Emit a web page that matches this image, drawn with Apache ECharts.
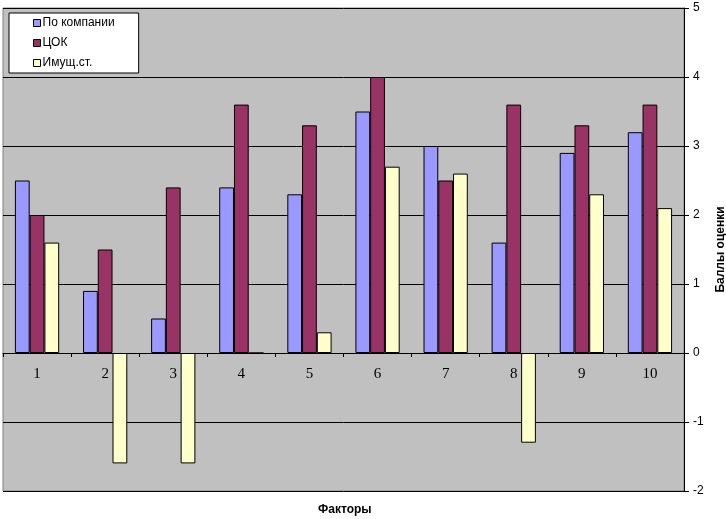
<!DOCTYPE html>
<html><head><meta charset="utf-8">
<script src="https://cdn.jsdelivr.net/npm/echarts@6/dist/echarts.min.js"></script>
<style>html,body{margin:0;padding:0;background:#fff}#c{width:726px;height:519px}</style>
</head><body><div id="c"></div>
<script>
const categories = ['1','2','3','4','5','6','7','8','9','10'];
const poKompanii = [2.5, 0.9, 0.5, 2.4, 2.3, 3.5, 3.0, 1.6, 2.9, 3.2];
const tsok = [2.0, 1.5, 2.4, 3.6, 3.3, 4.0, 2.5, 3.6, 3.3, 3.6];
const imushch = [1.6, -1.6, -1.6, 0, 0.3, 2.7, 2.6, -1.3, 2.3, 2.1];
const seriesNames = ['По компании', 'ЦОК', 'Имущ.ст.'];
const colors = ['#9999FF', '#993366', '#FFFFCC'];

const chart = echarts.init(document.getElementById('c'), null, {renderer:'canvas'});
const mk = (name, data, color) => ({
  name, type:'bar', data,
  barGap:'0%', barCategoryGap:'35%',
  itemStyle:{color, borderColor:'#000', borderWidth:1},
  emphasis:{disabled:true}
});
chart.setOption({
  animation:false,
  backgroundColor:'#fff',
  grid:{left:3, right:42, top:8, bottom:28, containLabel:false, outerBoundsMode:'none', show:true, backgroundColor:'#C0C0C0', borderColor:'#808080', borderWidth:1},
  legend:{
    orient:'vertical', left:9, top:13,
    backgroundColor:'#fff', borderColor:'#000', borderWidth:1,
    padding:[4, 24, 4, 24], itemGap:8, itemWidth:7, itemHeight:7,
    icon:'rect',
    itemStyle:{borderColor:'#000', borderWidth:1},
    textStyle:{fontFamily:'Liberation Sans, Arial', fontSize:12, color:'#000', padding:[0,0,0,-3]},
    data: seriesNames
  },
  xAxis:{
    type:'category', data:categories, position:'bottom', offset:-138,
    axisLine:{onZero:false, lineStyle:{color:'#000', width:1}},
    axisTick:{show:true, length:4, lineStyle:{color:'#000'}},
    axisLabel:{margin:14, fontFamily:'Liberation Serif, Times New Roman', fontSize:15, color:'#000'},
    splitLine:{show:false}
  },
  yAxis:{
    type:'value', position:'right', min:-2, max:5, interval:1,
    axisLine:{show:true, lineStyle:{color:'#000'}},
    axisTick:{show:true, length:5, inside:false, lineStyle:{color:'#000'}},
    axisLabel:{margin:9, fontFamily:'Liberation Sans, Arial', fontSize:12, color:'#000'},
    splitLine:{show:true, lineStyle:{color:'#000', width:1}},
    name:'Баллы оценки', nameLocation:'middle', nameRotate:90, nameGap:31,
    nameTextStyle:{fontFamily:'Liberation Sans, Arial', fontSize:12, fontWeight:'bold', color:'#000'}
  },
  graphic:[{type:'text', left:318, top:504, style:{text:'Факторы', font:'bold 12px Liberation Sans, Arial', fill:'#000'}}],
  series:[mk(seriesNames[0], poKompanii, colors[0]), mk(seriesNames[1], tsok, colors[1]), mk(seriesNames[2], imushch, colors[2])]
});
</script></body></html>
